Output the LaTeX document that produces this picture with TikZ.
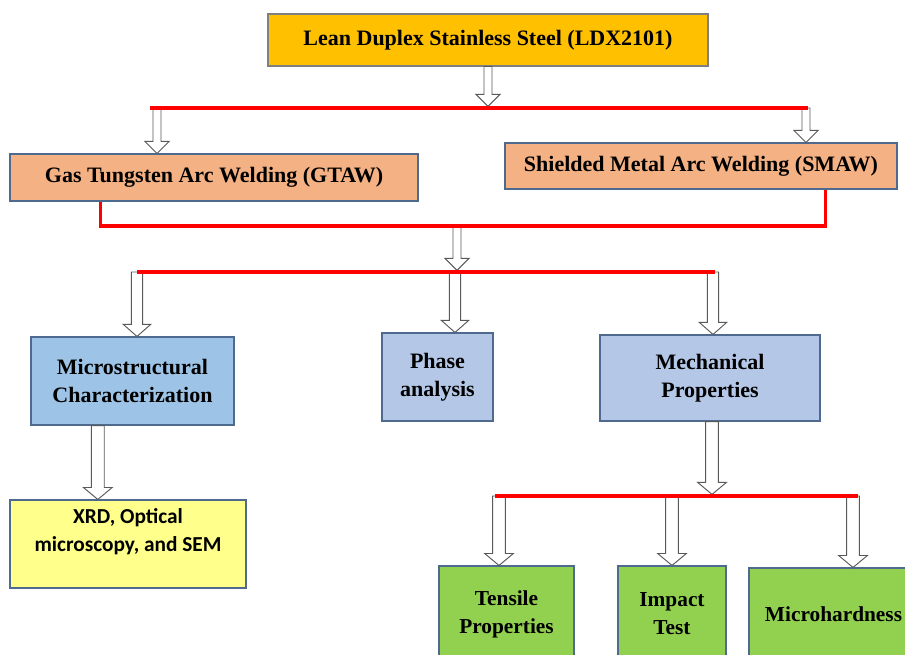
\documentclass[tikz,border=0pt]{standalone}
\usepackage{fontspec}
\setmainfont{Liberation Serif}
\newfontfamily\carlitofont{Carlito}
\definecolor{goldfill}{HTML}{FFC000}
\definecolor{weldfill}{HTML}{F4B183}
\definecolor{charfill}{HTML}{9DC3E6}
\definecolor{propfill}{HTML}{B4C7E7}
\definecolor{xrdfill}{HTML}{FFFF8C}
\definecolor{testfill}{HTML}{92D050}
\definecolor{edgeblue}{HTML}{4F6A8F}
\definecolor{edgegray}{HTML}{7F7F7F}
\usetikzlibrary{calc}

% hollow block arrow: #1 half shaft width, #2 start, #3 tip
\newcommand{\barrow}[3]{%
  \draw[hollow] let \p1=#2, \p2=#3 in
    (\x1-#1,\y1) -- (\x1-#1,\y2+9pt) -- (\x1-#1-6pt,\y2+9pt) -- (\x1,\y2)
    -- (\x1+#1+6pt,\y2+9pt) -- (\x1+#1,\y2+9pt) -- (\x1+#1,\y1) -- cycle;}

\begin{document}
\begin{tikzpicture}[x=0.75pt, y=-0.75pt,
      box/.style={draw=edgeblue, line width=0.8pt, align=center, inner sep=2pt,
                  font=\bfseries\fontsize{16.5}{21}\selectfont},
      lowbox/.style={box, fill=testfill, font=\bfseries\fontsize{16}{21}\selectfont},
      redline/.style={draw=red, line width=2.3pt},
      hollow/.style={draw=edgegray!70!black, fill=white, line width=0.7pt, line join=miter}
    ]
    \useasboundingbox (0,0) rectangle (905,655);

    \node[box, fill=goldfill, draw=edgegray, minimum width=330pt, minimum height=39pt]
      (ldx) at (488,40) {Lean Duplex Stainless Steel (LDX2101)};
    \node[box, fill=weldfill, minimum width=306pt, minimum height=35.25pt]
      (gtaw) at (214,177.5) {Gas Tungsten Arc Welding (GTAW)};
    \node[box, fill=weldfill, minimum width=294pt, minimum height=34.5pt]
      (smaw) at (701,166) {Shielded Metal Arc Welding (SMAW)};
    \node[box, fill=charfill, minimum width=152.25pt, minimum height=66pt]
      (micro) at (132.5,381) {Microstructural\\Characterization};
    \node[box, fill=propfill, minimum width=83.25pt, minimum height=66pt]
      (phase) at (437.5,377) {Phase\\analysis};
    \node[box, fill=propfill, minimum width=165pt, minimum height=64.5pt]
      (mech) at (710,378) {Mechanical\\Properties};
    \node[box, fill=xrdfill, minimum width=177pt, minimum height=66pt,
          font=\carlitofont\bfseries\fontsize{16}{21}\selectfont]
      (xrd) at (128,544) {XRD, Optical\\microscopy, and SEM\\\mbox{}};
    \node[lowbox, minimum width=101.25pt, minimum height=72pt]
      (tensile) at (506.5,614) {Tensile\\Properties};
    \node[lowbox, minimum width=81pt, minimum height=72pt]
      (impact) at (672,614) {Impact\\Test};
    \node[lowbox, minimum width=126.75pt, minimum height=69pt]
      (hard) at (833.5,614) {Microhardness};

    \coordinate (s1w) at (150,108);
    \coordinate (s1e) at (808,108);
    \coordinate (k1) at (157,108);
    \coordinate (k2) at (806,108);
    \coordinate (s2) at (457,226);
    \coordinate (s3w) at (137,272);
    \coordinate (s3e) at (715,272);
    \coordinate (k3) at (455,272);
    \coordinate (k4) at (713,272);
    \coordinate (m1) at ([xshift=-26pt]micro.south);
    \coordinate (s4) at (712,496);
    \coordinate (s4w) at (495,496);
    \coordinate (s4e) at (858,496);
    \coordinate (k5) at (499,496);
    \coordinate (k6) at (672,496);
    \coordinate (k7) at (853,496);

    \barrow{3pt}{(ldx.south)}{([yshift=1.2pt]ldx.south |- s1w)}
    \barrow{3pt}{(k1)}{(k1 |- gtaw.north)}
    \barrow{3pt}{(k2)}{(k2 |- smaw.north)}
    \barrow{3pt}{(s2)}{([yshift=1.2pt]s2 |- s3w)}
    \barrow{4.2pt}{(s3w)}{(s3w |- micro.north)}
    \barrow{4.2pt}{(k3)}{(k3 |- phase.north)}
    \barrow{4.2pt}{(k4)}{(k4 |- mech.north)}
    \barrow{4.8pt}{(m1)}{(m1 |- xrd.north)}
    \barrow{4.8pt}{(s4 |- mech.south)}{([yshift=1.2pt]s4)}
    \barrow{4.8pt}{(k5)}{(k5 |- tensile.north)}
    \barrow{4.8pt}{(k6)}{(k6 |- impact.north)}
    \barrow{4.8pt}{(k7)}{(k7 |- hard.north)}

    \draw[redline] (s1w) -- (s1e);
    \draw[redline] ([xshift=68pt]gtaw.south west) |- (s2) -| ([xshift=241pt]smaw.south west);
    \draw[redline] (s3w) -- (s3e);
    \draw[redline] (s4w) -- (s4e);
\end{tikzpicture}
\end{document}
